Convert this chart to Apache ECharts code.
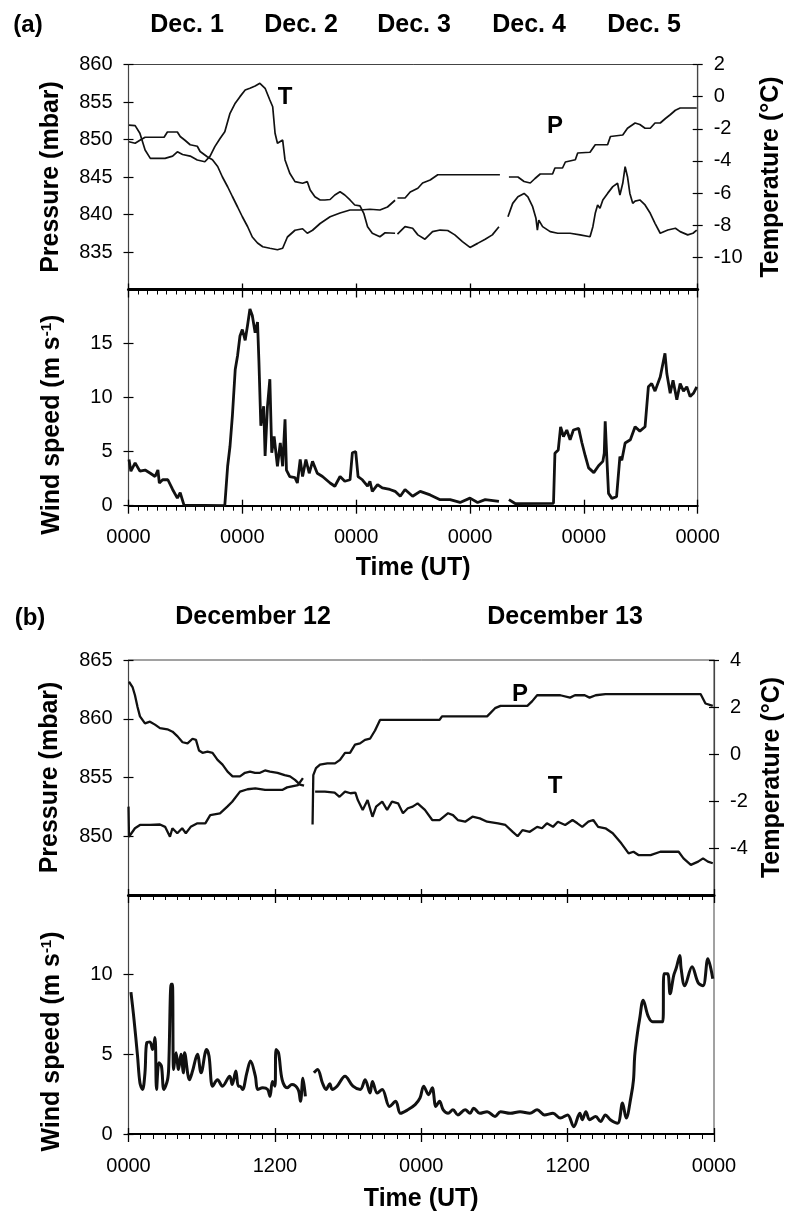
<!DOCTYPE html>
<html><head><meta charset="utf-8">
<script src="https://cdn.jsdelivr.net/npm/echarts@6/dist/echarts.min.js"></script>
<style>html,body{margin:0;padding:0;background:#fff}#c{width:785px;height:1215px}</style>
</head><body><div id="c"></div>
<script>
// ---------------- DATA (hours since start of record) ----------------
// Panel (a): Dec 1 - Dec 5, 120 h
const dayLabelsA = ['Dec. 1','Dec. 2','Dec. 3','Dec. 4','Dec. 5'];
const hrsTempA = [0.1,1.4,2.4,3.5,4.6,7.7,9.3,10.3,11.4,13,14.5,16.1,17.2,18.2,19.3,20.3,21.4,22.5,23.5,24.6,25.6,26.7,27.7,28.8,29.8,30.4,30.9,31.4,32.5,33,34,35.1,36.7,37.7,38.3,39.3,40.4,41.4,42.5,43.5,44.6,45.6,46.7,47.7,48.8,49.6,50.4,51.4,53,54.1,56.2,56.45,56.7,58.3,59.9,61,62.5,64.1,65.7,67.3,68.8,70.4,72,73.6,75.2,76.7,78.1,79,80,81,82.1,83.4,84.2,85.2,85.9,86.2,86.5,87.3,88.9,90.5,93.1,95.2,97.3,97.9,98.4,98.9,99.4,100,101,102.1,103.1,103.6,104.2,104.7,105.2,105.7,106.3,106.8,107.8,108.9,110,111,112.1,113.7,115.3,116.3,117.9,119,119.8];
const tempA = [-1.77,-1.8,-2.28,-3.32,-3.84,-3.84,-3.7,-3.43,-3.6,-3.7,-3.94,-4.05,-3.7,-3.11,-2.6,-2.18,-1.04,-0.41,0.0,0.41,0.52,0.66,0.83,0.52,-0.21,-0.63,-2.28,-2.9,-2.7,-3.94,-4.77,-5.29,-5.39,-5.29,-5.81,-6.23,-6.43,-6.43,-6.4,-6.12,-5.92,-6.12,-6.43,-6.74,-6.8,-7.26,-8.09,-8.5,-8.72,-8.47,-8.5,null,-8.56,-8.09,-8.19,-8.6,-8.87,-8.4,-8.3,-8.33,-8.6,-9.02,-9.38,-9.13,-8.87,-8.6,-8.09,null,-7.47,-6.64,-6.23,-6.02,-6.23,-6.85,-7.57,-8.3,-7.68,-8.09,-8.4,-8.5,-8.5,-8.6,-8.72,-8.09,-7.26,-6.74,-6.95,-6.43,-6.02,-5.6,-5.39,-6.12,-5.39,-4.36,-4.98,-6.02,-6.64,-6.5,-6.43,-6.74,-7.26,-7.88,-8.5,-8.3,-8.19,-8.4,-8.6,-8.5,-8.3];

const hrsPresA = [0.1,1.4,2.4,3.5,7.5,8.2,10.3,10.9,11.9,13,14.5,15.1,16.6,17.7,18.8,19.8,20.9,21.9,23,24,25.1,26.1,27.2,28.3,29.8,31.4,32.5,33.5,35.1,36.7,37.7,38.8,40.4,42.5,44.6,46.7,48.8,50.9,53,54.6,56.2,56.45,56.7,58.3,59.4,61,62,63.6,65.2,78.3,79,80.2,82.1,83.4,84.7,85.7,86.8,89.4,89.9,91.5,92.1,94.2,94.7,97.3,98.4,101,101.6,104.2,105.2,106.8,107.8,108.9,110,111,112.1,113.2,114.2,115.3,116.3,119.8];
const presA = [849.7,849.5,849.9,850.3,850.3,851.0,851.0,850.4,849.9,849.3,849.1,848.4,847.7,847.3,846.4,845.0,843.7,842.4,841.0,839.7,838.4,837.0,836.2,835.7,835.5,835.3,835.5,837.0,837.9,838.1,837.5,837.9,838.8,839.7,840.2,840.6,840.6,840.7,840.6,841.0,841.9,null,842.2,842.2,843.0,843.5,844.2,844.6,845.3,845.3,null,845.0,845.0,844.4,844.2,844.8,845.4,845.4,846.2,846.2,847.0,847.3,848.2,848.3,849.3,849.3,850.4,850.6,851.5,852.2,852.0,851.5,851.5,852.2,852.2,852.8,853.3,853.9,854.2,854.2];

const hrsWindA = [0.1,0.5,1.4,2.4,3.5,4.6,5.6,6.2,6.5,7.2,8.3,9.3,10.3,10.9,11.7,20.3,20.9,21.4,21.9,22.5,23,23.5,24,24.6,25.1,25.6,26.1,26.7,27.2,27.5,27.9,28.5,28.8,29.3,29.8,30.2,30.7,31.4,32,32.5,33,33.3,34,35.1,35.6,36.2,36.7,37.4,38.1,38.8,39.8,40.9,42.5,43.5,44.6,45.6,46.7,47.2,47.9,48.4,49.3,50.4,50.9,51.4,52.5,53.5,55.1,56.2,57.3,58.3,59.9,61.5,63.6,65.7,67.8,69.9,72,73.6,75.2,78.1,79,80.2,81.5,89.6,89.9,90.6,91.1,91.7,92.4,93.1,93.8,94.9,95.6,96.3,97,98.1,99.1,100,100.3,100.5,100.8,101.2,101.9,102.9,103.6,104,104.7,105.8,106.8,107.8,108.9,109.6,110.3,111,112.1,113.1,113.5,114.2,114.8,115.6,116.3,117,117.7,118.4,119.1,119.8];
const windA = [4.27,3.19,3.96,3.2,3.3,3.0,2.7,3.3,2.1,2.4,2.4,1.5,0.7,1.2,0.06,0,3.65,5.5,8.3,12.6,13.9,15.7,16.3,15.3,16.7,18.2,17.6,16.0,17.0,13.3,7.4,9.2,4.6,9.2,11.7,4.9,6.4,3.65,5.8,3.65,8.0,3.3,2.7,2.6,2.1,4.27,2.7,4.27,3.0,4.1,3.0,2.7,2.1,1.8,2.7,2.26,2.4,4.9,5.0,2.7,2.4,1.8,2.26,1.33,1.95,1.64,1.5,1.33,0.87,1.5,0.87,1.33,1.0,0.56,0.56,0.3,0.7,0.3,0.56,0.4,null,0.56,0.2,0.22,4.85,5.16,7.3,6.4,7.0,6.1,7.0,7.15,5.8,4.6,3.5,3.06,3.7,4.1,4.85,7.8,4.85,1.14,0.68,0.83,4.55,4.2,5.8,6.1,7.3,6.9,7.3,11.0,11.3,10.6,11.9,14.1,12.2,10.4,11.6,9.8,11.3,10.6,11.0,10.1,10.4,11.0];

// Panel (b): Dec 12 - Dec 13, 48 h
const dayLabelsB = ['December 12','December 13'];
const hrsPresB = [0.04,0.33,0.53,0.74,0.94,1.35,1.76,2.17,2.58,3.19,3.61,4.02,4.43,4.84,5.25,5.53,5.78,6.07,6.48,6.89,7.3,7.71,8.12,8.53,9.14,9.55,9.96,10.37,10.78,11.19,11.6,12.22,12.8,13.24,13.65,14.06,14.39,14.7,15.09,15.15,15.37,15.7,16.3,16.93,17.34,17.75,18.16,18.57,18.98,19.39,19.8,20.21,20.62,25.5,25.7,29.4,30.05,30.5,32.7,33.1,33.5,34.1,35.4,36.2,36.6,37.4,37.8,38.3,39.1,42.8,46.9,47.3,47.9];
const presB = [863.15,862.7,862.0,861.0,860.2,859.6,859.75,859.5,859.2,859.1,858.9,858.5,858.0,857.9,858.3,858.2,857.3,857.1,857.2,857.1,856.5,856.1,855.5,855.1,855.1,855.4,855.5,855.4,855.4,855.6,855.5,855.4,855.2,855.1,854.8,854.4,854.3,null,851.0,855.2,855.8,856.1,856.2,856.2,856.5,857.1,857.1,857.8,857.9,858.2,858.3,859.0,859.9,859.9,860.2,860.2,860.9,861.1,861.1,861.5,862.0,862.0,862.0,861.8,862.0,862.0,861.8,862.0,862.1,862.1,862.1,861.3,861.1];

const hrsTempB = [0,0.04,0.2,0.53,0.94,1.76,2.58,3.0,3.4,3.6,4.0,4.4,4.7,5.1,5.65,6.3,6.7,7.5,8.1,8.5,9.14,9.76,10.4,11.2,12,12.6,13,13.9,14.3,14.8,15.3,16.1,16.9,17.3,17.75,18.2,18.6,18.8,19.2,19.6,20.0,20.3,20.8,21.2,21.6,22.1,22.5,22.9,23.3,23.7,24.3,24.9,25.5,26.2,26.6,27,27.6,28.2,28.8,29.4,30.3,30.9,31.5,31.9,32.3,32.9,33.5,33.9,34.3,34.8,35.2,35.8,36.4,36.8,37.2,37.7,38.1,38.5,39.1,39.7,40.4,41,41.4,41.8,42.4,42.8,43.6,45.1,45.5,46.1,46.7,47.1,47.5,47.9];
const tempB = [-2.24,-3.52,-3.52,-3.16,-3.02,-3.02,-3.0,-3.1,-3.52,-3.16,-3.37,-3.16,-3.37,-3.1,-2.95,-2.95,-2.6,-2.53,-2.24,-2.03,-1.6,-1.5,-1.46,-1.53,-1.53,-1.53,-1.42,-1.32,-1.03,null,-1.6,-1.6,-1.64,-1.82,-1.6,-1.67,-1.64,-1.96,-2.38,-1.96,-2.67,-2.24,-2.03,-2.38,-2.03,-2.1,-2.52,-2.31,-2.24,-2.1,-2.38,-2.81,-2.81,-2.52,-2.6,-2.81,-2.88,-2.67,-2.74,-2.88,-2.95,-3.02,-3.31,-3.5,-3.24,-3.31,-3.1,-3.16,-2.95,-3.1,-2.88,-3.02,-2.81,-2.95,-3.1,-2.88,-2.81,-3.1,-3.16,-3.37,-3.8,-4.23,-4.16,-4.3,-4.3,-4.3,-4.16,-4.16,-4.44,-4.72,-4.58,-4.44,-4.58,-4.65];

const hrsWindB = [0.2,0.45,0.74,0.94,1.15,1.35,1.5,1.76,1.97,2.17,2.3,2.5,2.7,2.9,3.2,3.3,3.5,3.6,3.7,3.9,4.1,4.3,4.5,4.6,5.0,5.25,5.65,5.95,6.4,6.6,6.9,7.3,7.7,8.3,8.5,8.8,9,9.14,9.35,9.7,10.0,10.4,10.6,11,11.4,11.6,11.8,12,12.1,12.3,12.6,13,13.4,13.9,14.1,14.3,14.5,14.8,15.2,15.5,15.9,16.2,16.5,16.7,17.1,17.75,18.4,19,19.4,19.8,20,20.4,20.8,21.4,21.9,22.3,22.9,23.5,23.9,24.2,24.6,24.9,25.2,25.5,25.8,26.2,26.6,27,27.6,28,28.3,28.8,29.4,30.05,30.5,31.3,32.1,32.9,33.5,34.1,34.8,35.4,36,36.5,37,37.2,37.5,37.8,38.3,38.7,39.1,39.5,40.1,40.5,40.8,41.2,41.4,41.5,41.7,41.9,42.2,42.6,42.97,43.8,43.9,44.2,44.4,44.7,44.9,45.2,45.3,45.6,46.2,46.7,47.1,47.5,47.9];
const windB = [8.9,7.2,4.9,3.2,2.8,3.84,5.74,5.78,5.3,6.05,2.8,4.47,4.26,2.8,3.4,4.26,9.4,9.4,4.05,5.1,4.05,5.0,3.84,5.1,3.4,3.95,5.0,3.84,5.3,4.9,3.0,3.4,3.0,3.63,3.1,3.95,3.0,3.0,2.8,3.84,4.58,3.63,2.8,2.9,2.8,2.36,3.3,3.0,5.3,5.1,3.4,2.9,3.1,2.8,2.05,3.5,2.36,null,3.84,4.05,3.2,2.8,3.16,2.8,3.0,3.63,3.0,2.8,3.4,2.57,3.3,2.57,2.8,1.73,2.05,1.3,1.52,1.84,2.26,3.0,2.47,2.9,1.73,2.05,1.52,1.3,1.52,1.2,1.52,1.3,1.62,1.3,1.4,1.1,1.4,1.3,1.4,1.3,1.52,1.2,1.3,1.0,1.2,0.46,1.3,0.9,1.4,0.9,1.1,0.78,1.2,0.9,0.68,1.94,1.0,2.36,3.4,4.9,6.2,7.2,8.4,7.4,7.05,7.05,10.06,10.06,8.8,9.96,10.4,11.2,10.4,9.3,10.5,9.5,9.3,11.0,9.75];

// ---------------- CHART ----------------
const FONT = '"Liberation Sans", Arial, Helvetica, sans-serif';
const zip = (h, v) => h.map((t, i) => [t, v[i]]);
const grids = [
  {left:128.5, top:64.5, width:569.2, height:225},
  {left:128.5, top:289.5, width:569.2, height:216.2},
  {left:128.5, top:660, width:585.5, height:235},
  {left:128.5, top:895, width:585.5, height:239}
].map(g => Object.assign(g, {show:true, borderColor:'#444', borderWidth:1, containLabel:false, outerBoundsMode:'none'}));

const lbl = {fontSize:20, color:'#000', fontFamily:FONT};
const nameStyle = {fontSize:25, fontWeight:'bold', color:'#000', fontFamily:FONT};

function xPair(gi, max, interval, lineW, labelFmt, name, nameGap) {
  const main = {type:'value', gridIndex:gi, min:0, max:max, interval:interval, position:'bottom',
    axisLine:{show:true, onZero:false, lineStyle:{color:'#000', width:lineW}},
    axisTick:{show:true, length:8, lineStyle:{color:'#000', width:1.3}},
    minorTick:{show:true, splitNumber:12, length:5, lineStyle:{color:'#000', width:1}},
    splitLine:{show:false}, minorSplitLine:{show:false},
    axisLabel: labelFmt ? Object.assign({formatter:labelFmt, margin:22, showMinLabel:true, showMaxLabel:true}, lbl) : {show:false}};
  if (name) Object.assign(main, {name:name, nameLocation:'middle', nameGap:nameGap, nameTextStyle:nameStyle});
  const twin = {type:'value', gridIndex:gi, min:0, max:max, interval:interval, position:'bottom',
    axisLine:{show:false, onZero:false}, axisTick:{show:true, inside:true, length:6, lineStyle:{color:'#000', width:1.3}},
    axisLabel:{show:false}, splitLine:{show:false}};
  return [main, twin];
}
function yPair(gi, pos, min, max, interval, hideMin, hideMax, name, nameGap, nameExtra) {
  const main = {type:'value', gridIndex:gi, position:pos, min:min, max:max, interval:interval,
    axisLine:{show:true, onZero:false, lineStyle:{color:'#444', width:1.2}},
    axisTick:{show:true, length:5, lineStyle:{color:'#000', width:1.2}},
    splitLine:{show:false},
    axisLabel:Object.assign({margin:16, showMinLabel:!hideMin, showMaxLabel:!hideMax}, lbl),
    name:name, nameLocation:'middle', nameRotate:90, nameGap:nameGap,
    nameTextStyle:Object.assign({}, nameStyle, nameExtra || {})};
  const twin = {type:'value', gridIndex:gi, position:pos, min:min, max:max, interval:interval,
    axisLine:{show:false, onZero:false}, axisTick:{show:true, inside:true, length:5, lineStyle:{color:'#000', width:1.2}},
    axisLabel:{show:false}, splitLine:{show:false}};
  return [main, twin];
}
const windRich = {rich:{sup:{fontSize:15, fontWeight:'bold', fontFamily:FONT, color:'#000', verticalAlign:'top', lineHeight:25}}, lineHeight:25};

const xAxis = [].concat(
  xPair(0, 120, 24, 3, null),
  xPair(1, 120, 24, 2, () => '0000', 'Time (UT)', 50),
  xPair(2, 48, 12, 3, null),
  xPair(3, 48, 12, 2, v => (v % 24 === 0 ? '0000' : '1200'), 'Time (UT)', 53)
);
const yAxis = [].concat(
  yPair(0, 'left', 830, 860, 5, true, false, 'Pressure (mbar)', 65),
  yPair(0, 'right', -12, 2, 2, true, false, 'Temperature (°C)', 61),
  yPair(1, 'left', 0, 20, 5, false, true, 'Wind speed (m s{sup|-1})', 64, Object.assign({padding:[0,54,0,0]}, windRich)),
  yPair(2, 'left', 845, 865, 5, true, false, 'Pressure (mbar)', 66),
  yPair(2, 'right', -6, 4, 2, true, false, 'Temperature (°C)', 46),
  yPair(3, 'left', 0, 15, 5, false, true, 'Wind speed (m s{sup|-1})', 64, Object.assign({padding:[0,54,0,0]}, windRich))
);
const line = (name, xi, yi, h, v, w, smooth) => ({
  name:name, type:'line', xAxisIndex:xi, yAxisIndex:yi, data:zip(h, v), symbol:'none', showSymbol:false,
  connectNulls:false, smooth:smooth || false, lineStyle:{color:'#111', width:w}, z:5, silent:true});
const series = [
  line('Pressure a', 0, 0, hrsPresA, presA, 1.7),
  line('Temperature a', 0, 2, hrsTempA, tempA, 1.7),
  line('Wind a', 2, 4, hrsWindA, windA, 2.8),
  line('Pressure b', 4, 6, hrsPresB, presB, 2.3),
  line('Temperature b', 4, 8, hrsTempB, tempB, 2.3),
  line('Wind b', 6, 10, hrsWindB, windB, 3, 0.35)
];

const txt = (x, y, s, size) => ({type:'text', x:x, y:y, style:{text:s, fill:'#000',
  font:'bold ' + (size || 25) + 'px ' + FONT, textAlign:'center', textVerticalAlign:'middle'}});
const dayCentersA = [187, 301, 414, 529, 644];
const dayCentersB = [253, 565];
const graphic = [txt(28, 25, '(a)', 24), txt(30, 618, '(b)', 24)]
  .concat(dayLabelsA.map((d, i) => txt(dayCentersA[i], 25, d, 25)))
  .concat(dayLabelsB.map((d, i) => txt(dayCentersB[i], 617, d, 25)))
  .concat([txt(285, 97, 'T', 24), txt(555, 126, 'P', 24), txt(520, 694, 'P', 24), txt(555, 786, 'T', 24)]);

const chart = echarts.init(document.getElementById('c'), null, {renderer:'canvas', width:785, height:1215});
chart.setOption({animation:false, backgroundColor:'#fff', grid:grids, xAxis:xAxis, yAxis:yAxis, series:series, graphic:graphic});
</script></body></html>
